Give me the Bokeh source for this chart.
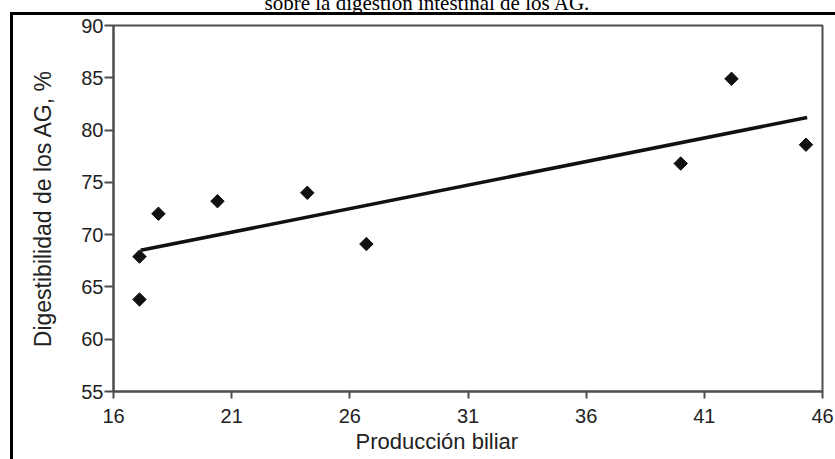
from bokeh.plotting import figure
from bokeh.models import FixedTicker, Range1d, Title
from bokeh.embed import file_html
from bokeh.resources import INLINE

# data
produccion = [17.1, 17.1, 17.9, 20.4, 24.2, 26.7, 40.0, 42.15, 45.3]
digestibilidad = [63.8, 67.9, 72.0, 73.2, 74.0, 69.1, 76.8, 84.9, 78.6]
fit_x = [17.15, 45.35]
fit_y = [68.5, 81.2]
x_ticks = [16, 21, 26, 31, 36, 41, 46]
y_ticks = [55, 60, 65, 70, 75, 80, 85, 90]
title_text = "sobre la digestión intestinal de los AG."
x_label = "Producción biliar"
y_label = "Digestibilidad de los AG, %"

AX = "#4d4d4d"
TXT = "#222222"
FONT = "Liberation Sans"
SHIFT = 30  # canvas rows hidden above the window

p = figure(width=835, height=459 + SHIFT, x_range=Range1d(16, 46), y_range=Range1d(55, 90),
           output_backend="svg", toolbar_location=None,
           min_border_left=113, min_border_right=13, min_border_top=55, min_border_bottom=68)
p.styles = {
    "margin-top": f"-{SHIFT}px",
    "box-shadow": "inset 10px 42px 0 0 white, inset 13px 45px 0 0 black",
}
p.grid.visible = False
p.outline_line_color = AX
p.outline_line_width = 2
p.background_fill_color = "white"
p.border_fill_color = None

for ax in (p.xaxis[0], p.yaxis[0]):
    ax.axis_line_color = AX
    ax.axis_line_width = 2
    ax.major_tick_line_color = AX
    ax.major_tick_line_width = 2
    ax.minor_tick_line_color = None
    ax.major_tick_in = 0
    ax.major_label_text_font = FONT
    ax.major_label_text_font_size = "20px"
    ax.major_label_text_color = TXT

p.xaxis.ticker = FixedTicker(ticks=x_ticks)
p.yaxis.ticker = FixedTicker(ticks=y_ticks)
p.xaxis.major_tick_out = 7
p.xaxis.major_label_standoff = 10
p.yaxis.major_tick_out = 9
p.yaxis.major_label_standoff = 1

p.yaxis.axis_label = y_label
p.yaxis.axis_label_text_font = FONT
p.yaxis.axis_label_text_font_size = "23px"
p.yaxis.axis_label_text_font_style = "normal"
p.yaxis.axis_label_text_color = TXT
p.yaxis.axis_label_standoff = 22

p.line(fit_x, fit_y, line_color="#111111", line_width=3.5)
p.scatter(produccion, digestibilidad, marker="square", angle=0.7853981634, size=9.5,
          fill_color="#111111", line_color="#111111")

p.add_layout(Title(text=x_label, align="left", offset=242, standoff=3,
                   text_font=FONT, text_font_size="22px", text_font_style="normal",
                   text_color=TXT), "below")
p.add_layout(Title(text=title_text, align="left", offset=151, standoff=22,
                   text_font="Liberation Serif", text_font_size="21px",
                   text_font_style="normal", text_color="black"), "above")

open("out.html", "w").write(file_html(p, INLINE))
